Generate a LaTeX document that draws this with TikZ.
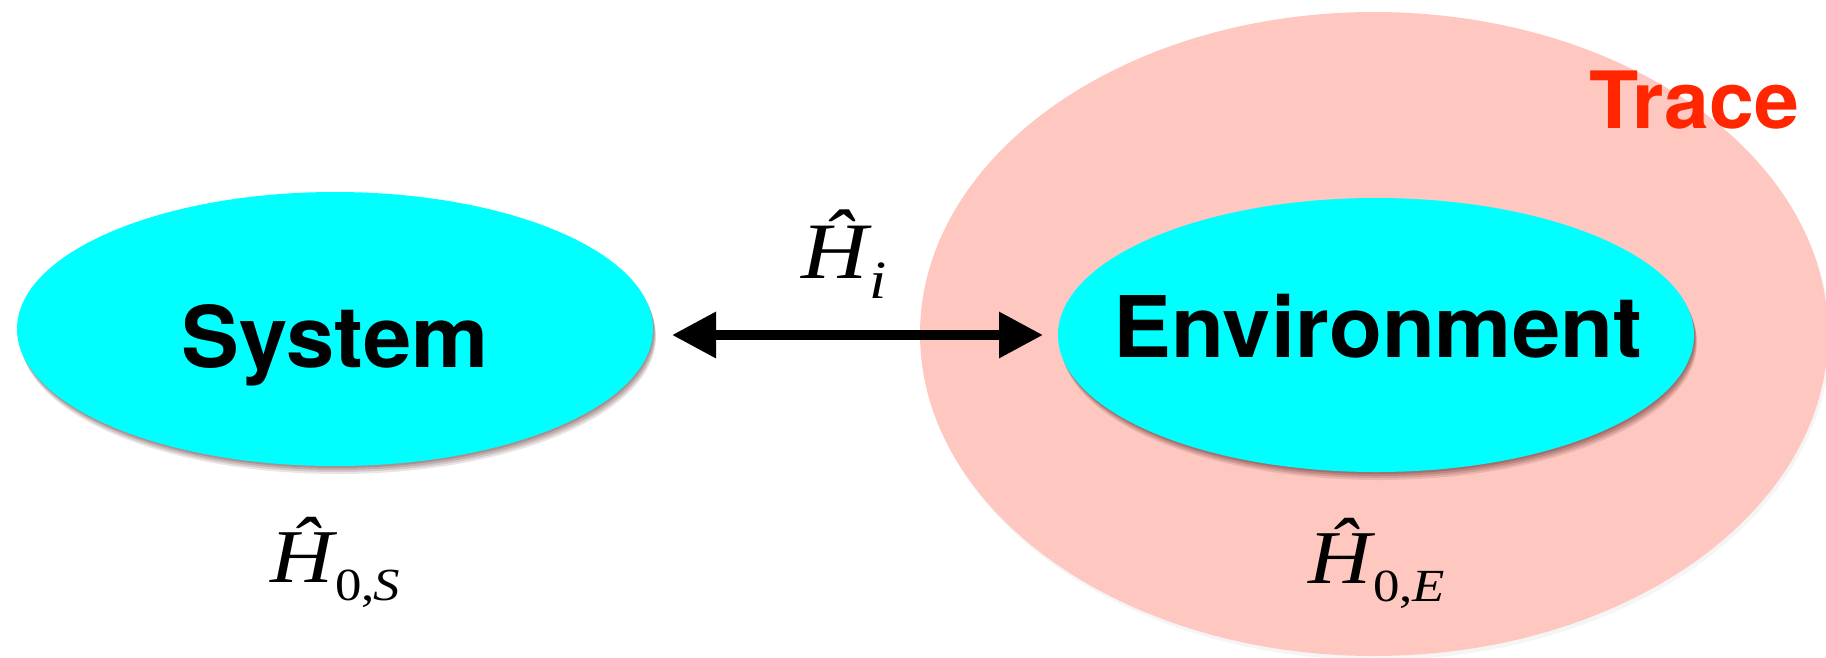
\documentclass[tikz,border=0pt]{standalone}
\usepackage{fontspec}
\newfontfamily\heros{TeX Gyre Heros}[FakeStretch=1.02]
\newfontfamily\tms{Liberation Serif}[FakeStretch=1.15]
\usetikzlibrary{arrows.meta,shapes.geometric}
\definecolor{tracepink}{RGB}{254,200,192}
\definecolor{blobcyan}{RGB}{0,255,255}
\definecolor{tracered}{RGB}{255,38,0}
\tikzset{
  softshadow/.style={
    preaction={fill=black!80!red, fill opacity=0.10, transform canvas={shift={(3,8)}}},
    preaction={fill=black!80!red, fill opacity=0.12, transform canvas={shift={(2.5,6)}}},
    preaction={fill=black!80!red, fill opacity=0.14, transform canvas={shift={(2,4)}}},
    preaction={fill=black!80!red, fill opacity=0.16, transform canvas={shift={(1,2)}}}},
  blob/.style={ellipse, fill=blobcyan, inner sep=0pt,
    minimum width=636pt, minimum height=274pt, softshadow},
  traceblob/.style={ellipse, fill=tracepink, inner sep=0pt,
    minimum width=908pt, minimum height=644pt,
    preaction={fill=black, fill opacity=0.04, transform canvas={shift={(2,4)}}}},
  bigtext/.style={font=\heros\bfseries\fontsize{85}{90}\selectfont, inner sep=0pt, anchor=base},
  tracetext/.style={font=\heros\bfseries\fontsize{79}{84}\selectfont, text=tracered, inner sep=0pt, anchor=base west},
  mathlbl/.style={inner sep=0pt, anchor=base west, font=\tms},
  biarrow/.style={line width=9.5pt, {Triangle[length=44pt,width=44pt]}-{Triangle[length=44pt,width=44pt]}}
}
\begin{document}
\begin{tikzpicture}[x=1pt,y=-1pt]
\useasboundingbox (0,0) rectangle (1826,657);
% trace region
\node[traceblob] (trace) at (1374,334) {};
% system and environment
\node[blob] (sys) at (335,329) {};
\node[blob] (env) at (1376,335) {};
\node[bigtext] (systxt) at (335,367) {System};
\node[bigtext] (envtxt) at (1378,357) {Environment};
\node[tracetext] (tracetxt) at (1589,128) {Trace};
% interaction arrow
\coordinate (aL) at (672,335);
\coordinate (aR) at (1043,335);
\draw[biarrow] (aL) -- (aR);
% labels
\node[mathlbl] (hi) at (801,278)
  {{\fontsize{80}{80}\selectfont\itshape\^{H}}\kern 2pt\raisebox{-20pt}{\fontsize{54}{54}\selectfont\itshape i}};
\node[mathlbl] (h0s) at (270,582)
  {{\fontsize{76}{76}\selectfont\itshape\^{H}}\kern 2pt\raisebox{-18pt}{\fontsize{46}{46}\selectfont 0,\kern-1pt\textit{S}}};
\node[mathlbl] (h0e) at (1308,583)
  {{\fontsize{76}{76}\selectfont\itshape\^{H}}\kern 2pt\raisebox{-18pt}{\fontsize{46}{46}\selectfont 0,\kern-1pt\textit{E}}};
\end{tikzpicture}
\end{document}
